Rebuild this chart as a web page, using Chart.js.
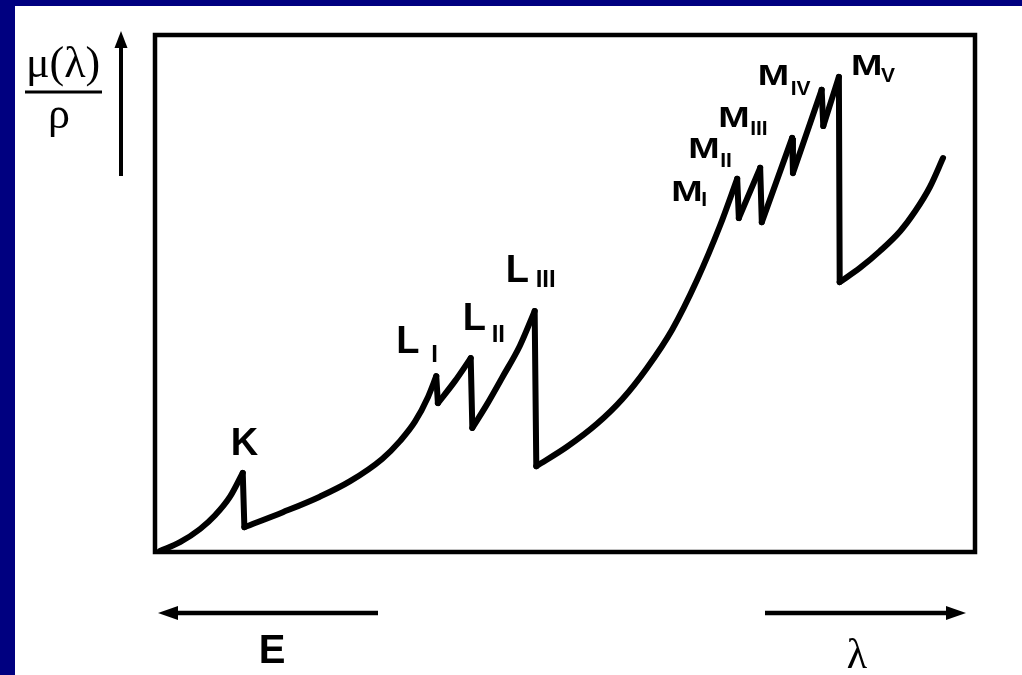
<!DOCTYPE html>
<html>
<head>
<meta charset="utf-8">
<script src="https://cdn.jsdelivr.net/npm/chart.js@4/dist/chart.umd.min.js"></script>
<style>
  html, body { margin: 0; padding: 0; width: 1022px; height: 675px; overflow: hidden; background: #000080; }
  #sheet { position: absolute; left: 15px; top: 6px; width: 1007px; height: 669px; background: #ffffff; }
  #plot { position: absolute; left: 0; top: 0; }
</style>
</head>
<body>
<div id="sheet"></div>
<canvas id="plot" width="1022" height="675"></canvas>
<script>
// Mass attenuation coefficient versus wavelength (relative units, 0-100 on both axes).
// Each branch runs from just after one absorption edge up to the next edge.
const toK    = [[0.6, 0.2], [3.05, 1.9], [5.5, 4.45], [7.3, 7.05], [9.15, 10.7], [10.7, 15.3]];
const toL1   = [[10.9, 4.8], [15.6, 7.7], [20.1, 10.7], [23.8, 13.7], [27.7, 18.0], [29.9, 21.5], [31.7, 25.2], [33.3, 30.0], [34.3, 34.0]];
const toL2   = [[34.5, 28.8], [36.6, 33.1], [38.5, 37.5]];
const toL3   = [[38.7, 24.0], [40.5, 28.6], [42.4, 33.9], [44.5, 39.9], [46.3, 46.6]];
const toM1   = [[46.5, 16.6], [50.2, 20.3], [53.9, 24.8], [57.0, 29.6], [60.0, 35.6], [63.1, 43.1], [66.1, 52.6], [68.9, 63.1], [71.0, 72.2]];
const toM2   = [[71.2, 64.6], [73.8, 74.3]];
const toM3   = [[74.0, 63.8], [77.7, 80.1]];
const toM4   = [[77.8, 73.3], [81.3, 89.4]];
const toM5   = [[81.5, 82.4], [83.4, 91.9]];
const afterM5 = [[83.5, 52.2], [86.0, 55.0], [88.4, 58.2], [90.9, 62.1], [92.7, 65.9], [94.5, 70.6], [96.1, 76.2]];

const branches = [toK, toL1, toL2, toL3, toM1, toM2, toM3, toM4, toM5, afterM5];

// Edge names: main letter and subscript, one per branch that ends at an edge
const edgeLetters = ['K', 'L', 'L', 'L', 'M', 'M', 'M', 'M', 'M'];
const edgeSubs    = ['', 'I', 'II', 'III', 'I', 'II', 'III', 'IV', 'V'];

// Label placement relative to the edge top, in pixels: [letter dx, letter dy, sub dx, sub dy]
const labelOffsets = [
  [-12, -18, 0, 0],
  [-40, -23, -5, -14],
  [-8, -28, 21, -16],
  [-29, -29, 1, -24],
  [-66, 22, -36, 27],
  [-72, -10, -40, -1],
  [-74, -11, -42, -3],
  [-64, -5, -31, 5],
  [12, -2, 42, 5]
];

const LINE = '#000000';
const toPts = arr => arr.map(p => ({ x: p[0], y: p[1] }));

const datasets = [];
branches.forEach((b, i) => {
  datasets.push({
    data: toPts(b),
    borderColor: LINE,
    borderWidth: 6,
    cubicInterpolationMode: 'monotone',
    borderCapStyle: 'round',
    borderJoinStyle: 'round',
    pointRadius: 0,
    showLine: true,
    fill: false
  });
  // vertical drop at the absorption edge
  if (i < branches.length - 1) {
    const top = b[b.length - 1];
    const bottom = branches[i + 1][0];
    datasets.push({
      data: toPts([top, bottom]),
      borderColor: LINE,
      borderWidth: 6,
      tension: 0,
      borderCapStyle: 'round',
      pointRadius: 0,
      showLine: true,
      fill: false
    });
  }
});

function drawArrow(ctx, x1, y1, x2, y2, headLen, headHalf, width) {
  const ang = Math.atan2(y2 - y1, x2 - x1);
  const bx = x2 - Math.cos(ang) * headLen;
  const by = y2 - Math.sin(ang) * headLen;
  ctx.save();
  ctx.strokeStyle = '#000';
  ctx.fillStyle = '#000';
  ctx.lineWidth = width;
  ctx.lineCap = 'butt';
  ctx.beginPath();
  ctx.moveTo(x1, y1);
  ctx.lineTo(bx + Math.cos(ang) * 2, by + Math.sin(ang) * 2);
  ctx.stroke();
  ctx.beginPath();
  ctx.moveTo(x2, y2);
  ctx.lineTo(bx - Math.sin(ang) * headHalf, by + Math.cos(ang) * headHalf);
  ctx.lineTo(bx + Math.sin(ang) * headHalf, by - Math.cos(ang) * headHalf);
  ctx.closePath();
  ctx.fill();
  ctx.restore();
}

const framePlugin = {
  id: 'frame',
  beforeDatasetsDraw(chart) {
    const { ctx, chartArea: a } = chart;
    ctx.save();
    ctx.strokeStyle = '#000';
    ctx.lineWidth = 4.5;
    ctx.strokeRect(a.left, a.top, a.right - a.left, a.bottom - a.top);
    ctx.restore();
  },
  afterDatasetsDraw(chart) {
    const { ctx } = chart;
    const xs = chart.scales.x, ys = chart.scales.y;
    ctx.save();
    ctx.fillStyle = '#000';
    ctx.textAlign = 'left';
    ctx.textBaseline = 'alphabetic';
    edgeLetters.forEach((letter, i) => {
      const b = branches[i];
      const top = b[b.length - 1];
      const px = xs.getPixelForValue(top[0]);
      const py = ys.getPixelForValue(top[1]);
      const o = labelOffsets[i];
      const isM = letter === 'M';
      ctx.font = isM ? '700 29px "Liberation Sans", Arial, sans-serif' : '700 38px "Liberation Sans", Arial, sans-serif';
      if (isM) {
        ctx.save();
        ctx.translate(px + o[0], py + o[1]);
        ctx.scale(1.3, 1);
        ctx.fillText(letter, 0, 0);
        ctx.restore();
      } else {
        ctx.fillText(letter, px + o[0], py + o[1]);
      }
      if (edgeSubs[i]) {
        ctx.font = isM ? '700 21px "Liberation Sans", Arial, sans-serif' : '700 24px "Liberation Sans", Arial, sans-serif';
        ctx.fillText(edgeSubs[i], px + o[2], py + o[3]);
      }
    });
    ctx.restore();
  },
  afterDraw(chart) {
    const { ctx } = chart;
    ctx.save();
    ctx.fillStyle = '#000';
    // y-axis quantity as a fraction
    ctx.textAlign = 'center';
    ctx.textBaseline = 'alphabetic';
    ctx.font = '44px "Liberation Serif", "Times New Roman", serif';
    ctx.fillText('\u03BC(\u03BB)', 63, 77);
    ctx.fillRect(25, 90.5, 77, 3);
    ctx.fillText('\u03C1', 59, 128);
    drawArrow(ctx, 121, 176, 121, 31, 17, 6.5, 4);
    // energy and wavelength directions
    drawArrow(ctx, 378, 613, 158, 613, 20, 7, 4.5);
    drawArrow(ctx, 765, 613, 966, 613, 20, 7, 4.5);
    ctx.font = '700 40px "Liberation Sans", Arial, sans-serif';
    ctx.fillText('E', 272, 663);
    ctx.font = '42px "Liberation Serif", "Times New Roman", serif';
    ctx.fillText('\u03BB', 857, 668);
    ctx.restore();
  }
};

new Chart(document.getElementById('plot'), {
  type: 'scatter',
  data: { datasets },
  options: {
    responsive: false,
    animation: false,
    devicePixelRatio: 1,
    layout: { padding: { left: 155, right: 47, top: 35, bottom: 123 } },
    plugins: { legend: { display: false }, tooltip: { enabled: false } },
    scales: {
      x: { type: 'linear', min: 0, max: 100, display: false },
      y: { type: 'linear', min: 0, max: 100, display: false }
    }
  },
  plugins: [framePlugin]
});
</script>
</body>
</html>
